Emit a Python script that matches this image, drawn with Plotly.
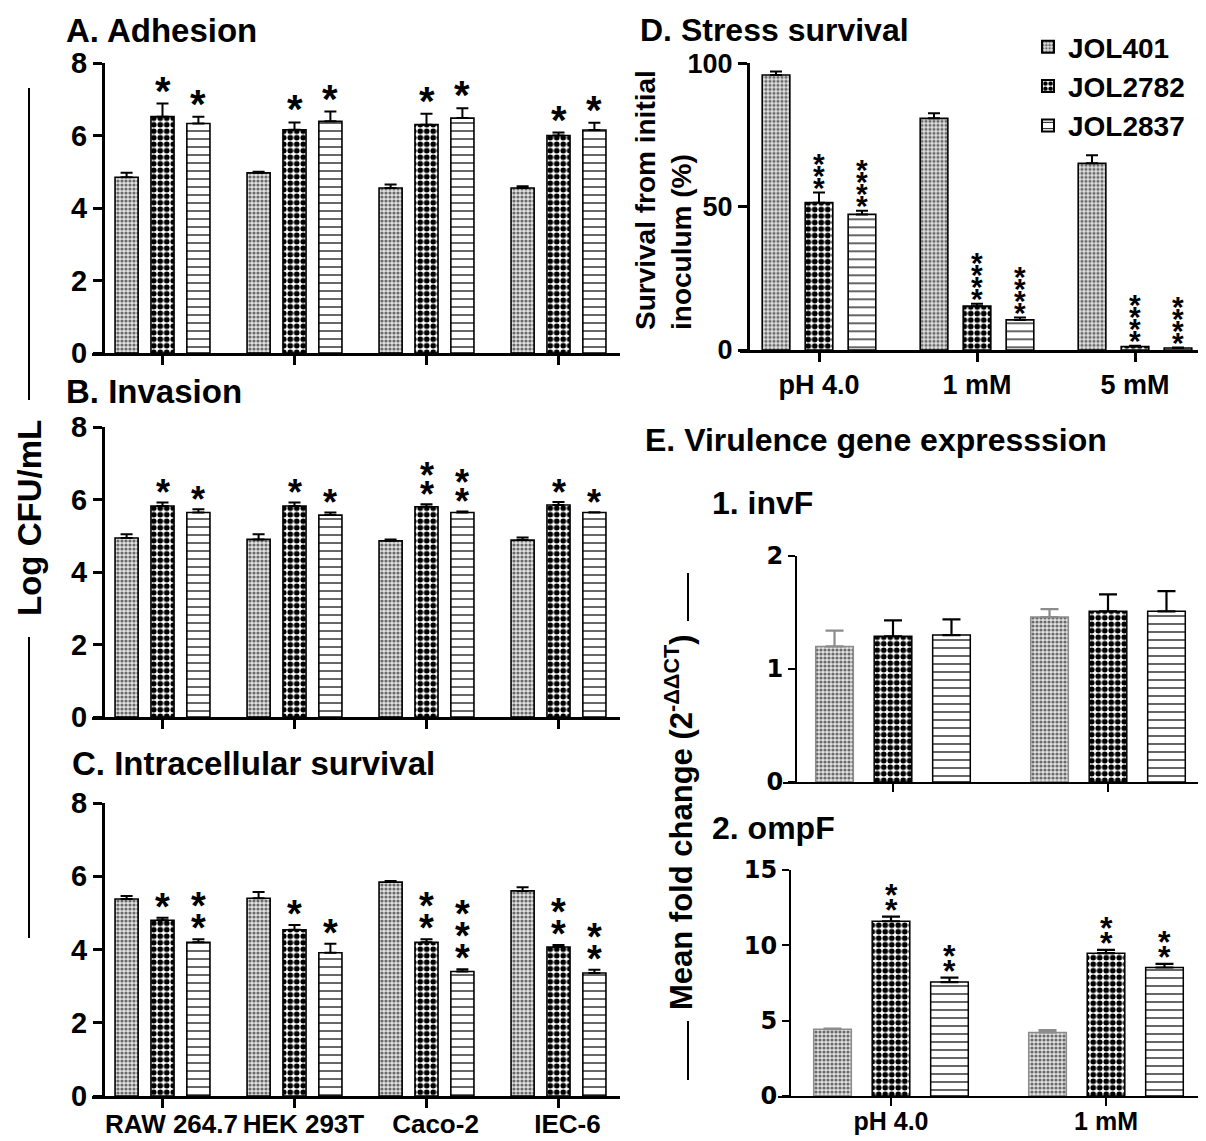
import plotly.graph_objects as go

# The page body has an 8 px margin, so the figure is drawn 8 px in from the
# window corner; coordinates below are window pixels of the reference.
PAGE_OFF = 8
W, H = 1206 - PAGE_OFF, 1141 - PAGE_OFF

# ---------------- data ----------------
strains = ["JOL401", "JOL2782", "JOL2837"]

cell_lines = ["RAW 264.7", "HEK 293T", "Caco-2", "IEC-6"]

adhesion_jol401 = [4.85, 4.97, 4.55, 4.55]
adhesion_jol401_err = [0.12, 0.03, 0.10, 0.05]
adhesion_jol2782 = [6.52, 6.16, 6.30, 6.00]
adhesion_jol2782_err = [0.36, 0.20, 0.30, 0.08]
adhesion_jol2837 = [6.33, 6.39, 6.48, 6.15]
adhesion_jol2837_err = [0.19, 0.27, 0.27, 0.20]
adhesion_sig_jol2782 = ["*", "*", "*", "*"]
adhesion_sig_jol2837 = ["*", "*", "*", "*"]

invasion_jol401 = [4.94, 4.90, 4.86, 4.88]
invasion_jol401_err = [0.10, 0.14, 0.04, 0.07]
invasion_jol2782 = [5.82, 5.82, 5.80, 5.85]
invasion_jol2782_err = [0.10, 0.10, 0.07, 0.08]
invasion_jol2837 = [5.64, 5.57, 5.64, 5.64]
invasion_jol2837_err = [0.09, 0.07, 0.03, 0.01]
invasion_sig_jol2782 = ["*", "*", "**", "*"]
invasion_sig_jol2837 = ["*", "*", "**", "*"]

intracellular_jol401 = [5.38, 5.40, 5.84, 5.60]
intracellular_jol401_err = [0.08, 0.17, 0.03, 0.10]
intracellular_jol2782 = [4.80, 4.54, 4.20, 4.07]
intracellular_jol2782_err = [0.07, 0.13, 0.08, 0.05]
intracellular_jol2837 = [4.20, 3.91, 3.40, 3.36]
intracellular_jol2837_err = [0.08, 0.25, 0.06, 0.09]
intracellular_sig_jol2782 = ["*", "*", "**", "**"]
intracellular_sig_jol2837 = ["**", "*", "***", "**"]

stress_conditions = ["pH 4.0", "1 mM", "5 mM"]
stress_jol401 = [95.9, 80.8, 65.1]
stress_jol401_err = [1.2, 1.8, 2.8]
stress_jol2782 = [51.4, 15.3, 1.2]
stress_jol2782_err = [3.5, 0.8, 0.3]
stress_jol2837 = [47.3, 10.5, 0.7]
stress_jol2837_err = [1.3, 0.8, 0.2]
stress_sig_jol2782 = ["***", "****", "****"]
stress_sig_jol2837 = ["****", "****", "****"]

gene_conditions = ["pH 4.0", "1 mM"]
invf_jol401 = [1.20, 1.46]
invf_jol401_err = [0.14, 0.07]
invf_jol2782 = [1.29, 1.51]
invf_jol2782_err = [0.14, 0.15]
invf_jol2837 = [1.30, 1.51]
invf_jol2837_err = [0.14, 0.18]
invf_sig_jol2782 = ["", ""]
invf_sig_jol2837 = ["", ""]

ompf_jol401 = [4.43, 4.22]
ompf_jol401_err = [0.04, 0.15]
ompf_jol2782 = [11.60, 9.48]
ompf_jol2782_err = [0.30, 0.22]
ompf_jol2837 = [7.56, 8.53]
ompf_jol2837_err = [0.30, 0.24]
ompf_sig_jol2782 = ["**", "**"]
ompf_sig_jol2837 = ["**", "**"]

# ---------------- styling ----------------
FONT = "Liberation Sans, Arial, sans-serif"
WIDE = "DejaVu Sans, Liberation Sans, sans-serif"
STEP = 0.272
BW = 0.175


def px(xp):
    return (xp - PAGE_OFF) / W


def py(yp):
    return 1 - (yp - PAGE_OFF) / H


def bold(family, size):
    return dict(family=family, size=size, color="black", weight="bold")


def pattern(strain):
    if strain == "JOL401":
        return dict(shape=".", fgcolor="#6a6a6a", bgcolor="#e2e2e2", size=4, solidity=0.5)
    if strain == "JOL2782":
        return dict(shape=".", fgcolor="#000000", bgcolor="#ffffff", size=6.5, solidity=0.6)
    return dict(shape="-", fgcolor="#000000", bgcolor="#ffffff", size=8, solidity=0.15)


panels = [
    dict(cats=cell_lines, x_dom=(92, 620), x0=162.5, unit=132, yax=103, y_dom=(353, 63),
         yrange=(0, 8), tickvals=[0, 2, 4, 6, 8], lw=3, tickfont=bold(FONT, 29),
         showx=False, star=(40, 13, 20),
         series=[(adhesion_jol401, adhesion_jol401_err, None),
                 (adhesion_jol2782, adhesion_jol2782_err, adhesion_sig_jol2782),
                 (adhesion_jol2837, adhesion_jol2837_err, adhesion_sig_jol2837)], e=False),
    dict(cats=cell_lines, x_dom=(92, 620), x0=162.5, unit=132, yax=103, y_dom=(717, 427),
         yrange=(0, 8), tickvals=[0, 2, 4, 6, 8], lw=3, tickfont=bold(FONT, 29),
         showx=False, star=(36, 10, 19),
         series=[(invasion_jol401, invasion_jol401_err, None),
                 (invasion_jol2782, invasion_jol2782_err, invasion_sig_jol2782),
                 (invasion_jol2837, invasion_jol2837_err, invasion_sig_jol2837)], e=False),
    dict(cats=cell_lines, x_dom=(92, 620), x0=162.5, unit=132, yax=103, y_dom=(1096, 803),
         yrange=(0, 8), tickvals=[0, 2, 4, 6, 8], lw=3, tickfont=bold(FONT, 29),
         showx=True, star=(38, 11, 22),
         series=[(intracellular_jol401, intracellular_jol401_err, None),
                 (intracellular_jol2782, intracellular_jol2782_err, intracellular_sig_jol2782),
                 (intracellular_jol2837, intracellular_jol2837_err, intracellular_sig_jol2837)], e=False),
    dict(cats=stress_conditions, x_dom=(740, 1206), x0=819, unit=158, yax=748, y_dom=(350, 63.3),
         yrange=(0, 100), tickvals=[0, 50, 100], lw=3, tickfont=bold(FONT, 27),
         showx=True, star=(30, 5, 12),
         series=[(stress_jol401, stress_jol401_err, None),
                 (stress_jol2782, stress_jol2782_err, stress_sig_jol2782),
                 (stress_jol2837, stress_jol2837_err, stress_sig_jol2837)], e=False),
    dict(cats=gene_conditions, x_dom=(783, 1206), x0=893, unit=215, yax=796, y_dom=(782, 556),
         yrange=(0, 2), tickvals=[0, 1, 2], lw=2, tickfont=bold(WIDE, 24),
         showx=False, star=(32, 7, 15),
         series=[(invf_jol401, invf_jol401_err, None),
                 (invf_jol2782, invf_jol2782_err, invf_sig_jol2782),
                 (invf_jol2837, invf_jol2837_err, invf_sig_jol2837)], e=True),
    dict(cats=gene_conditions, x_dom=(778, 1206), x0=891, unit=215, yax=790, y_dom=(1096, 870),
         yrange=(0, 15), tickvals=[0, 5, 10, 15], lw=2, tickfont=bold(WIDE, 24),
         showx=True, star=(32, 7, 15),
         series=[(ompf_jol401, ompf_jol401_err, None),
                 (ompf_jol2782, ompf_jol2782_err, ompf_sig_jol2782),
                 (ompf_jol2837, ompf_jol2837_err, ompf_sig_jol2837)], e=True),
]

fig = go.Figure()
annotations = []
layout_axes = {}

for p_i, cfg in enumerate(panels, start=1):
    xa = "x" if p_i == 1 else f"x{p_i}"
    ya = "y" if p_i == 1 else f"y{p_i}"
    cats = cfg["cats"]
    for s_i, (vals, err, sig) in enumerate(cfg["series"]):
        strain = strains[s_i]
        center = (s_i - 1) * STEP
        edge = "#8c8c8c" if (cfg["e"] and strain == "JOL401") else "#000000"
        fig.add_trace(go.Bar(
            x=cats, y=vals, name=strain, xaxis=xa, yaxis=ya,
            offset=center - BW / 2, width=BW,
            showlegend=(p_i == 4),
            marker=dict(pattern=pattern(strain),
                        line=dict(color=edge, width=1.5 if cfg["e"] else 1.6)),
            error_y=dict(type="data", array=err, arrayminus=[0] * len(err), symmetric=False,
                         color=edge, thickness=2 if not cfg["e"] else 2.2,
                         width=6 if not cfg["e"] else 9),
        ))
        if sig:
            fsz, base, step = cfg["star"]
            for c_i, s in enumerate(sig):
                for k in range(len(s)):
                    annotations.append(dict(
                        x=c_i + center, y=vals[c_i] + err[c_i], xref=xa, yref=ya,
                        text="*", showarrow=False, yanchor="middle", xanchor="center",
                        yshift=base + k * step,
                        font=bold(FONT, fsz),
                    ))
    xr = [(cfg["x_dom"][0] - cfg["x0"]) / cfg["unit"], (cfg["x_dom"][1] - cfg["x0"]) / cfg["unit"]]
    xkey = "xaxis" if p_i == 1 else f"xaxis{p_i}"
    ykey = "yaxis" if p_i == 1 else f"yaxis{p_i}"
    layout_axes[xkey] = dict(
        domain=[px(cfg["x_dom"][0]), min(1.0, px(cfg["x_dom"][1]))], anchor=ya, range=xr,
        type="category", showline=True, linecolor="black", linewidth=cfg["lw"],
        ticks="outside", ticklen=9 if cfg["lw"] == 3 else 8, tickwidth=cfg["lw"], tickcolor="black",
        showticklabels=cfg["showx"], showgrid=False, zeroline=False, automargin=False,
        tickangle=0, tickfont=bold(FONT, 27),
    )
    layout_axes[ykey] = dict(
        domain=[py(cfg["y_dom"][0]), py(cfg["y_dom"][1])], anchor="free", position=px(cfg["yax"]),
        range=list(cfg["yrange"]), tickvals=cfg["tickvals"], showline=True, linecolor="black",
        linewidth=cfg["lw"], ticks="outside", ticklen=9 if cfg["lw"] == 3 else 7,
        tickwidth=cfg["lw"], tickcolor="black", showgrid=False, zeroline=False, automargin=False,
        tickfont=cfg["tickfont"],
    )

layout_axes["xaxis3"]["tickfont"] = bold(FONT, 26)
layout_axes["xaxis3"]["ticklabelshift"] = 9
layout_axes["xaxis3"]["ticklabelstandoff"] = -6
layout_axes["xaxis6"]["tickfont"] = bold(FONT, 25)
layout_axes["xaxis6"]["ticklabelstandoff"] = -6

# ---------------- titles ----------------
def title(text, x, y, size, family=FONT):
    annotations.append(dict(text=text, x=px(x), y=py(y), xref="paper", yref="paper",
                            xanchor="left", yanchor="middle", showarrow=False,
                            font=bold(family, size)))


title("A. Adhesion", 64, 31, 33)
title("B. Invasion", 64, 391, 33)
title("C. Intracellular survival", 70, 763, 33)
title("D. Stress survival", 638, 30, 32)
title("E. Virulence gene expresssion", 643, 440, 32)
title("1. invF", 710, 503, 32)
title("2. ompF", 710, 828, 32)

annotations.append(dict(text="Log CFU/mL", x=px(29), y=py(518), xref="paper", yref="paper",
                        textangle=-90, showarrow=False, xanchor="center", yanchor="middle",
                        font=bold(FONT, 33)))
annotations.append(dict(text="Survival from initial<br>inoculum (%)", x=px(664), y=py(200),
                        xref="paper", yref="paper", textangle=-90, showarrow=False, align="left",
                        xanchor="center", yanchor="middle", font=bold(FONT, 28)))
annotations.append(dict(text="Mean fold change (2<sup>-ΔΔCT</sup>)", x=px(679), y=py(822),
                        xref="paper", yref="paper", textangle=-90, showarrow=False,
                        xanchor="center", yanchor="middle", font=bold(FONT, 31)))

shapes = [
    dict(type="line", xref="paper", yref="paper", x0=px(29), x1=px(29), y0=py(88), y1=py(400),
         line=dict(color="black", width=2)),
    dict(type="line", xref="paper", yref="paper", x0=px(29), x1=px(29), y0=py(637), y1=py(938),
         line=dict(color="black", width=2)),
    dict(type="line", xref="paper", yref="paper", x0=px(688), x1=px(688), y0=py(573), y1=py(621),
         line=dict(color="black", width=2)),
    dict(type="line", xref="paper", yref="paper", x0=px(688), x1=px(688), y0=py(1021), y1=py(1080),
         line=dict(color="black", width=2)),
]

fig.update_layout(
    template="none",
    width=W, height=H, margin=dict(l=0, r=0, t=0, b=0, autoexpand=False),
    paper_bgcolor="white", plot_bgcolor="white", barmode="overlay",
    annotations=annotations, shapes=shapes,
    legend=dict(x=px(1028), y=py(22), xanchor="left", yanchor="top",
                font=bold(FONT, 28), bgcolor="rgba(0,0,0,0)", borderwidth=0,
                itemsizing="constant", tracegroupgap=0),
    showlegend=True,
    **layout_axes,
)

fig.write_html("out.html")
